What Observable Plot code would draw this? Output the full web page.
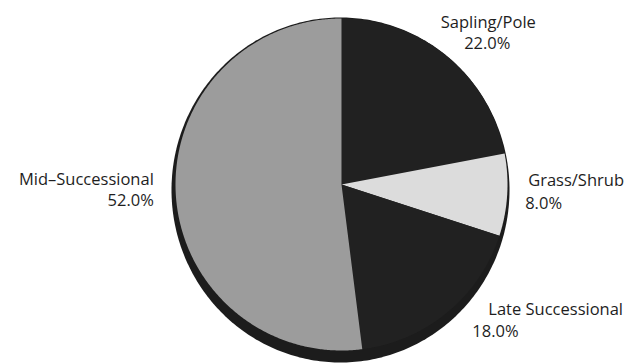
<!DOCTYPE html>
<html>
<head>
<meta charset="utf-8">
<script src="https://cdn.jsdelivr.net/npm/d3@7"></script>
<script src="https://cdn.jsdelivr.net/npm/@observablehq/plot@0.6"></script>
<style>
  html, body { margin: 0; padding: 0; background: #fff; }
  #chart svg { display: block; }
</style>
</head>
<body>
<div id="chart"></div>
<script>
// Forest structure classes, share of area (percent), clockwise from 12 o'clock
const classes = ["Sapling/Pole", "Grass/Shrub", "Late Successional", "Mid–Successional"];
const shares = [22.0, 8.0, 18.0, 52.0];
const shades = ["#212121", "#dcdcdc", "#212121", "#9c9c9c"];

const W = 632, H = 364;
const R = 166;            // pie radius in px
const CX = 341, CY = 184; // pie centre in px

// angles from d3.pie, clockwise from the top, in input order
const arcs = d3.pie().sort(null).value(d => d)(shares);

// slice outlines as polygons in unit-radius coordinates (y up)
const slicePts = [];
arcs.forEach((a, i) => {
  const n = Math.max(2, Math.ceil((a.endAngle - a.startAngle) / (Math.PI / 360)));
  slicePts.push({cls: classes[i], x: 0, y: 0});
  for (let k = 0; k <= n; k++) {
    const t = a.startAngle + (a.endAngle - a.startAngle) * k / n;
    slicePts.push({cls: classes[i], x: Math.sin(t), y: Math.cos(t)});
  }
});

// drop shadow under the pie: slightly larger ellipse set lower
const shadowPts = d3.range(0, 361, 1).map(deg => {
  const t = deg * Math.PI / 180;
  return {x: -1 / R + (169 / R) * Math.sin(t), y: -5.5 / R + (172.5 / R) * Math.cos(t)};
});

// label placement: offset (px) from the slice's mid-angle point on the rim
const layout = {
  "Sapling/Pole":      {anchor: "middle", name: [41, -34], value: [40, -13]},
  "Grass/Shrub":       {anchor: "start",  name: [21, -14], value: [18, 9]},
  "Late Successional": {anchor: "start",  name: [41, -3],  value: [25, 19]},
  "Mid–Successional":  {anchor: "end",    name: [-22, -15], value: [-22, 6]}
};
const labels = arcs.map((a, i) => {
  const mid = (a.startAngle + a.endAngle) / 2;
  const L = layout[classes[i]];
  return {
    cls: classes[i],
    value: shares[i].toFixed(1) + "%",
    anchor: L.anchor,
    rx: Math.sin(mid), ry: Math.cos(mid),
    nx: L.name[0], ny: L.name[1], vx: L.value[0], vy: L.value[1]
  };
});

const font = {fontFamily: "'Open Sans', sans-serif", fontSize: 16.5, fill: "#1e1e1e"};
const textMarks = [];
for (const d of labels) {
  textMarks.push(Plot.text([d], {x: "rx", y: "ry", text: "cls", textAnchor: d.anchor, dx: d.nx, dy: d.ny, ...font}));
  textMarks.push(Plot.text([d], {x: "rx", y: "ry", text: "value", textAnchor: d.anchor, dx: d.vx, dy: d.vy, ...font}));
}

const chart = Plot.plot({
  width: W,
  height: H,
  margin: 0,
  style: {background: "#fff", overflow: "visible"},
  x: {domain: [-CX / R, (W - CX) / R], range: [0, W], axis: null},
  y: {domain: [-(H - CY) / R, CY / R], range: [H, 0], axis: null},
  color: {domain: classes, range: shades},
  marks: [
    Plot.line(shadowPts, {x: "x", y: "y", fill: "#1c1c1c", stroke: null}),
    Plot.line(slicePts, {x: "x", y: "y", z: "cls", fill: "cls", stroke: null}),
    ...textMarks
  ]
});
document.getElementById("chart").appendChild(chart);
</script>
</body>
</html>
